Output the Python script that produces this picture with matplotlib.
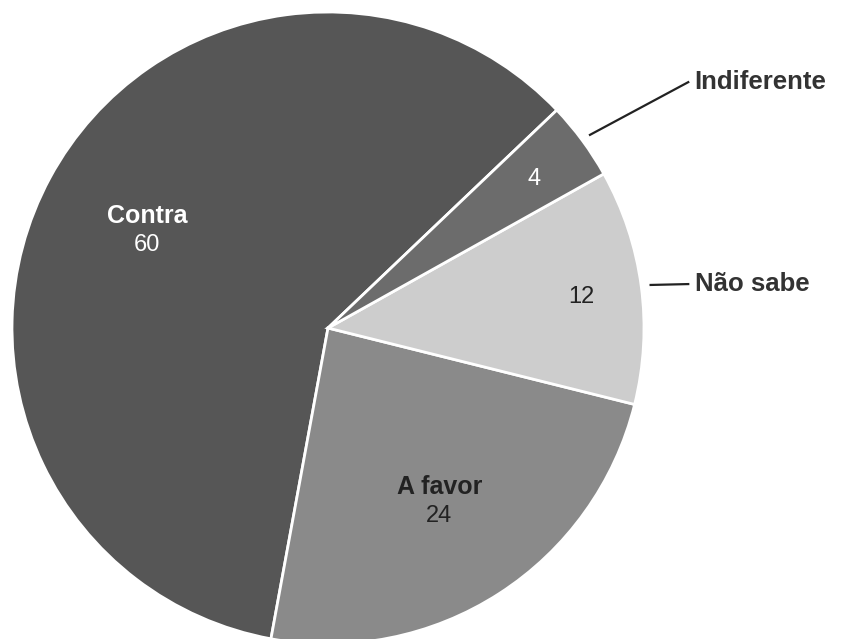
import numpy as np
import matplotlib.pyplot as plt

labels = ['Contra', 'A favor', 'Não sabe', 'Indiferente']
values = [60, 24, 12, 4]
colors = ['#565656', '#8a8a8a', '#cdcdcd', '#6c6c6c']

plt.rcParams['font.family'] = ['Liberation Sans', 'DejaVu Sans']

fig = plt.figure(figsize=(8.44, 6.39), dpi=100)
ax = fig.add_axes([0, 0, 1, 1])

# pie centre at (328, 328) px, radius 316 px
cx, cy, r = 328, 328, 316
W, H = 844, 639

wedges, _ = ax.pie(values, colors=colors, startangle=43.6, counterclock=True,
                   radius=1, wedgeprops=dict(edgecolor='white', linewidth=2))

ax.set_xlim(-cx / r, (W - cx) / r)
ax.set_ylim(-(H - cy) / r, cy / r)
ax.set_aspect('auto')
ax.axis('off')

# outside label positions for the small slices
outside = {'Não sabe': 0.139, 'Indiferente': 0.778}
text_x = 1.16

for w, lab, val, col in zip(wedges, labels, values, colors):
    mid = np.deg2rad((w.theta1 + w.theta2) / 2)
    dark_text = col in ('#8a8a8a', '#cdcdcd')
    tc = '#222222' if dark_text else 'white'
    if lab in outside:
        d = 0.81
        ax.text(d * np.cos(mid), d * np.sin(mid) - 0.01, str(val), color=tc,
                fontsize=17, ha='center', va='center')
        ly = outside[lab]
        sx, sy = 1.03 * np.cos(mid), 1.03 * np.sin(mid)
        ax.plot([sx, text_x - 0.02], [sy, ly], color='#222222', lw=1.6)
        ax.text(text_x, ly, lab, color='#333333', fontsize=18.5,
                fontweight='bold', ha='left', va='center')
    else:
        d = 0.65
        x, y = d * np.cos(mid), d * np.sin(mid)
        ax.text(x, y + 0.044, lab, color=tc, fontsize=18, fontweight='bold',
                ha='center', va='center')
        ax.text(x, y - 0.048, str(val), color=tc, fontsize=17,
                ha='center', va='center')

fig.savefig('out.png', dpi=100, facecolor='white')
